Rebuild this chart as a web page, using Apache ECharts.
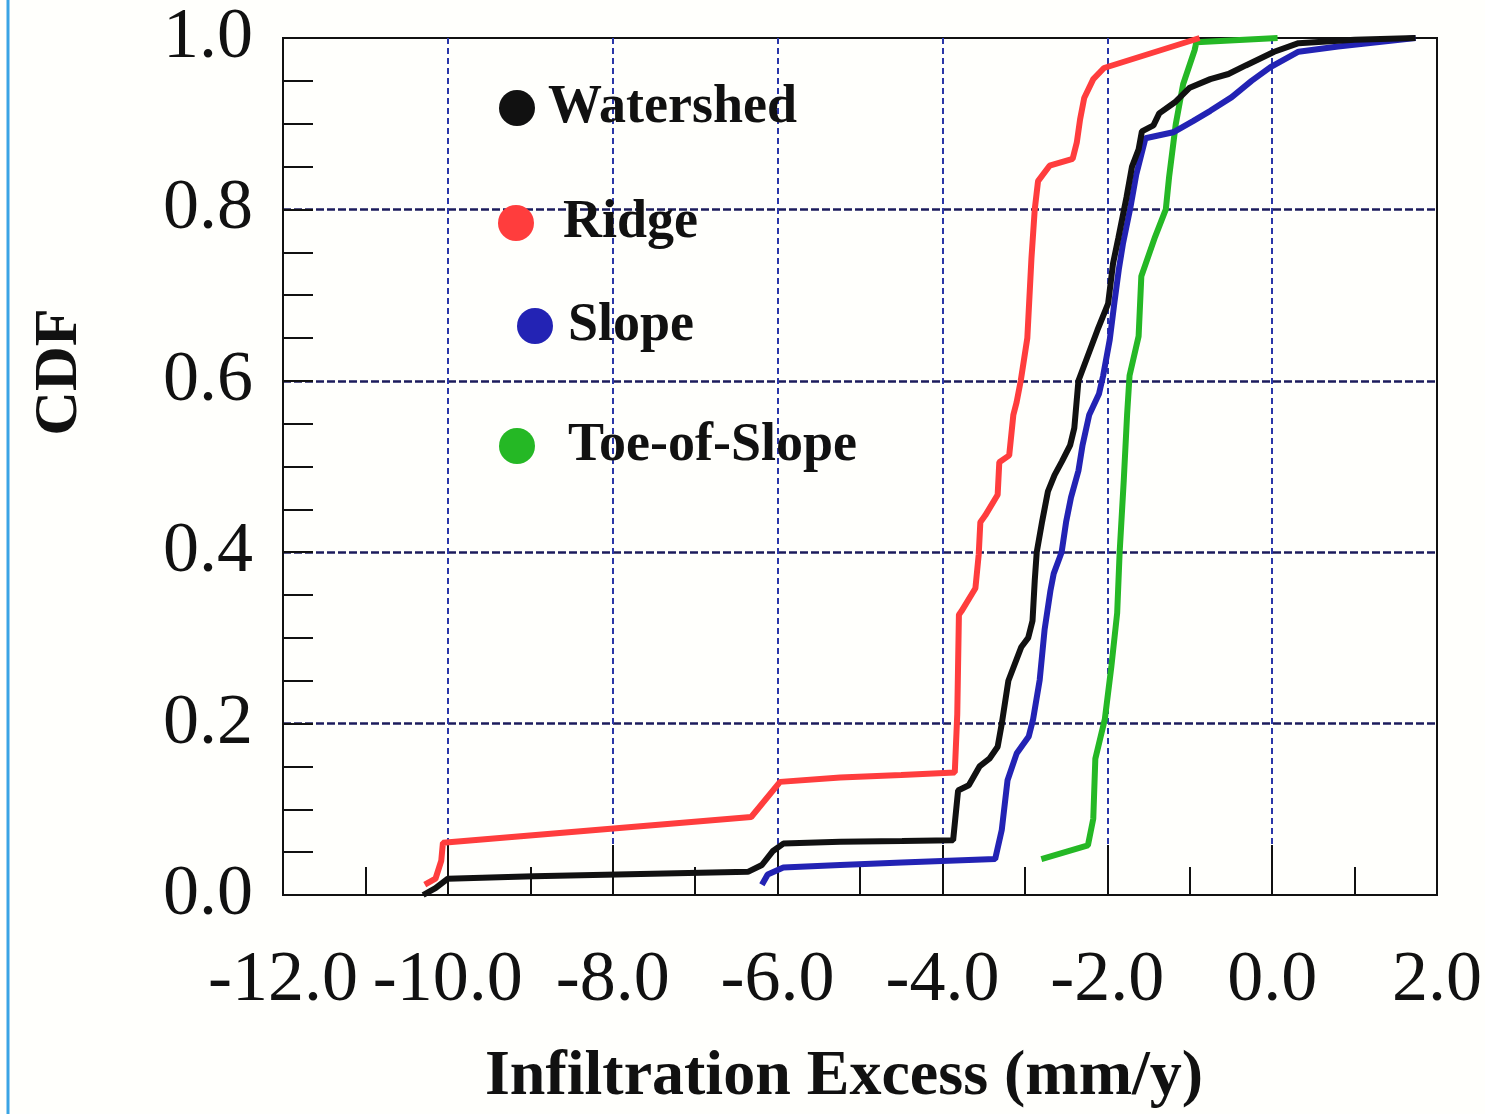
<!DOCTYPE html>
<html>
<head>
<meta charset="utf-8">
<script src="https://cdn.jsdelivr.net/npm/echarts@6/dist/echarts.min.js"></script>
<style>
html,body{margin:0;padding:0;background:#fffffc;}
#chart{width:1485px;height:1114px;}
</style>
</head>
<body>
<div id="chart"></div>
<script>
// Data (x = infiltration excess mm/y, y = CDF)
const seriesNames = ['Watershed', 'Ridge', 'Slope', 'Toe-of-Slope'];
const xTicks = [-12, -10, -8, -6, -4, -2, 0, 2];
const yTicks = [0, 0.2, 0.4, 0.6, 0.8, 1.0];

const watershed = [
  [-10.30,0.0],[-10.15,0.008],[-10.0,0.019],[-8.96,0.022],[-6.36,0.027],[-6.19,0.035],
  [-6.06,0.051],[-5.93,0.060],[-5.24,0.062],[-4.49,0.063],[-3.87,0.064],[-3.81,0.122],
  [-3.68,0.128],[-3.55,0.150],[-3.43,0.159],[-3.33,0.173],[-3.28,0.200],[-3.20,0.250],
  [-3.045,0.289],[-2.96,0.300],[-2.907,0.320],[-2.88,0.367],[-2.856,0.40],[-2.79,0.436],
  [-2.72,0.471],[-2.64,0.49],[-2.55,0.506],[-2.45,0.525],[-2.40,0.545],[-2.35,0.60],
  [-2.12,0.659],[-1.99,0.690],[-1.93,0.737],[-1.865,0.767],[-1.767,0.814],[-1.70,0.85],
  [-1.62,0.87],[-1.58,0.891],[-1.44,0.898],[-1.37,0.912],[-1.18,0.925],[-1.0,0.942],
  [-0.75,0.952],[-0.53,0.958],[-0.32,0.968],[0.025,0.984],[0.32,0.994],[1.0,0.998],[1.74,1.0]
];
const ridge = [
  [-10.28,0.012],[-10.15,0.019],[-10.08,0.04],[-10.06,0.061],[-6.32,0.091],[-5.97,0.132],
  [-5.24,0.137],[-4.5,0.140],[-3.85,0.143],[-3.82,0.211],[-3.80,0.327],[-3.77,0.331],
  [-3.60,0.358],[-3.56,0.397],[-3.54,0.435],[-3.48,0.443],[-3.33,0.467],[-3.31,0.505],
  [-3.19,0.513],[-3.14,0.56],[-3.10,0.575],[-3.05,0.60],[-2.97,0.65],[-2.92,0.743],
  [-2.88,0.80],[-2.84,0.833],[-2.70,0.851],[-2.42,0.859],[-2.37,0.878],[-2.33,0.905],
  [-2.28,0.930],[-2.17,0.952],[-2.04,0.965],[-0.88,1.0]
];
const slope = [
  [-6.19,0.012],[-6.12,0.024],[-5.93,0.032],[-5.24,0.035],[-4.49,0.038],[-3.36,0.042],
  [-3.28,0.076],[-3.21,0.134],[-3.10,0.165],[-2.953,0.185],[-2.90,0.205],[-2.82,0.251],
  [-2.76,0.31],[-2.69,0.355],[-2.65,0.375],[-2.554,0.40],[-2.50,0.435],[-2.44,0.464],
  [-2.35,0.495],[-2.30,0.525],[-2.22,0.56],[-2.10,0.585],[-2.05,0.606],[-1.97,0.648],
  [-1.91,0.694],[-1.86,0.73],[-1.81,0.76],[-1.72,0.802],[-1.65,0.84],[-1.537,0.883],
  [-1.20,0.89],[-0.96,0.903],[-0.75,0.915],[-0.49,0.931],[-0.25,0.95],[-0.02,0.966],
  [0.32,0.984],[0.8,0.99],[1.74,1.0]
];
const toeOfSlope = [
  [-2.80,0.042],[-2.235,0.058],[-2.17,0.089],[-2.145,0.159],[-2.03,0.205],[-1.95,0.267],
  [-1.88,0.329],[-1.85,0.40],[-1.80,0.484],[-1.76,0.56],[-1.73,0.606],[-1.62,0.652],
  [-1.587,0.722],[-1.42,0.768],[-1.29,0.80],[-1.25,0.838],[-1.17,0.899],[-1.08,0.946],
  [-0.94,0.986],[-0.92,0.995],[0.066,1.0]
];
const seriesData = [watershed, ridge, slope, toeOfSlope];
const colors = ['#111111', '#ff3d3d', '#2323b4', '#25b825'];

const FONT = '"Liberation Serif", "DejaVu Serif", serif';
const chart = echarts.init(document.getElementById('chart'), null, {renderer: 'canvas'});

function legendFor(i, left, top, pad) {
  return {
    data: [seriesNames[i]], left: left, top: top, orient: 'vertical',
    icon: 'circle', itemWidth: 36, itemHeight: 36, selectedMode: false,
    textStyle: {fontFamily: FONT, fontWeight: 'bold', fontSize: 54, color: '#111',
      padding: [0, 0, 0, pad]}
  };
}

chart.setOption({
  animation: false,
  backgroundColor: '#fffffc',
  color: colors,
  grid: {left: 283, right: 45, top: 38, bottom: 219, show: true,
    borderColor: '#111', borderWidth: 2, backgroundColor: 'transparent'},
  legend: [
    legendFor(0, 494, 76, 8),
    legendFor(1, 493, 191, 24),
    legendFor(2, 512, 294, 10),
    legendFor(3, 494, 414, 28)
  ],
  xAxis: {
    type: 'value', min: xTicks[0], max: xTicks[xTicks.length - 1], interval: 2,
    name: 'Infiltration Excess (mm/y)', nameLocation: 'middle', nameGap: 150,
    nameTextStyle: {fontFamily: FONT, fontWeight: 'bold', fontSize: 64, color: '#111',
      padding: [0, 32, 0, 0]},
    axisLine: {onZero: false, lineStyle: {color: '#111', width: 2}},
    axisTick: {inside: true, length: 50, lineStyle: {color: '#111', width: 2}},
    minorTick: {show: true, splitNumber: 2, length: 28, lineStyle: {color: '#111', width: 2}},
    axisLabel: {fontFamily: FONT, fontSize: 72, color: '#111', margin: 50,
      formatter: v => v.toFixed(1)},
    splitLine: {show: true, showMinLine: false, showMaxLine: false,
      lineStyle: {color: '#2a36a8', width: 2, type: [6, 4]}}
  },
  yAxis: {
    type: 'value', min: yTicks[0], max: yTicks[yTicks.length - 1], interval: 0.2,
    axisLine: {show: true, onZero: false, lineStyle: {color: '#111', width: 2}},
    axisTick: {inside: true, length: 30, lineStyle: {color: '#111', width: 2}},
    minorTick: {show: true, splitNumber: 4, length: 30, lineStyle: {color: '#111', width: 2}},
    axisLabel: {fontFamily: FONT, fontSize: 72, color: '#111', margin: 30,
      formatter: v => v.toFixed(1)},
    splitLine: {show: true, showMinLine: false, showMaxLine: false,
      lineStyle: {color: '#1c1c5c', width: 2.5, type: [8, 3]}}
  },
  graphic: [
    {type: 'text', x: 60, y: 372, rotation: Math.PI / 2,
      style: {text: 'CDF', font: 'bold 62px "Liberation Serif", serif', fill: '#111',
        textAlign: 'center', textVerticalAlign: 'middle'}},
    {type: 'line', shape: {x1: 8, y1: 0, x2: 8, y2: 1114},
      style: {stroke: '#3aa4e4', lineWidth: 3}}
  ],
  series: seriesNames.map((n, i) => ({
    name: n, type: 'line', data: seriesData[i], showSymbol: false, symbol: 'circle',
    lineStyle: {width: 6, color: colors[i]}, itemStyle: {color: colors[i]},
    z: 10 - i
  }))
});
</script>
</body>
</html>
